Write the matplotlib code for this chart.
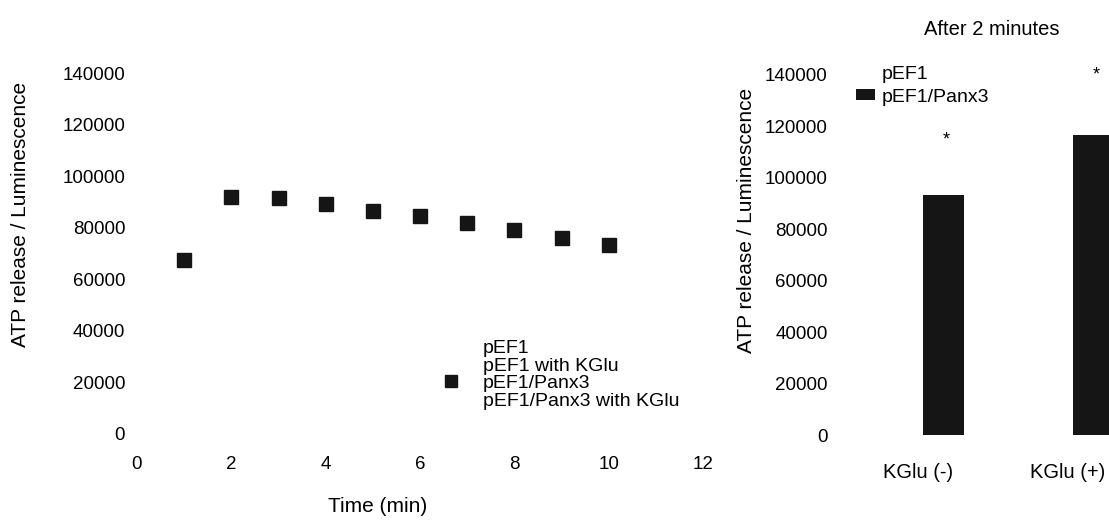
import os
os.environ.setdefault("MPLBACKEND", "Agg")

import matplotlib.pyplot as plt
from matplotlib.lines import Line2D
from matplotlib.patches import Patch

plt.rcParams['font.family'] = ['Liberation Sans', 'DejaVu Sans']

# time course, pEF1/Panx3 (the only visible series)
time_min = [1, 2, 3, 4, 5, 6, 7, 8, 9, 10]
panx3_lum = [67500, 92000, 91400, 89200, 86600, 84500, 81800, 79100, 76000, 73300]
series_names = ["pEF1", "pEF1 with KGlu", "pEF1/Panx3", "pEF1/Panx3 with KGlu"]
x_ticks = [0, 2, 4, 6, 8, 10, 12]
y_ticks = [0, 20000, 40000, 60000, 80000, 100000, 120000, 140000]

# bar panel, after 2 minutes
bar_groups = ["KGlu (-)", "KGlu (+)"]
bar_panx3 = [93300, 116700]
star_y = [114700, 140000]
bar_legend = ["pEF1", "pEF1/Panx3"]

DARK = "#151515"

fig = plt.figure(figsize=(11.09, 5.24), dpi=100)

# ---- left: time course ----
ax = fig.add_axes([137 / 1109, 90 / 524, 566 / 1109, 361 / 524])
ax.plot(time_min, panx3_lum, linestyle="none", marker="s", markersize=9.5,
        color=DARK, label=series_names[2])
ax.set_xlim(0, 12)
ax.set_ylim(0, 140000)
ax.set_xticks(x_ticks)
ax.set_yticks(y_ticks)
ax.tick_params(axis="y", length=0, pad=8.5, labelsize=13.5)
ax.tick_params(axis="x", length=0, pad=16, labelsize=13.5)
for s in ax.spines.values():
    s.set_visible(False)
ax.set_ylabel("ATP release / Luminescence", fontsize=15, va="center", ha="center")
ax.yaxis.set_label_coords(-0.205, 0.609)
ax.set_xlabel("Time (min)", fontsize=15, va="center", ha="center")
ax.xaxis.set_label_coords(0.426, -0.202)

handles = [
    Line2D([], [], linestyle="none", marker="s", color="white", markersize=8.5),
    Line2D([], [], linestyle="none", marker="s", color="white", markersize=8.5),
    Line2D([], [], linestyle="none", marker="s", color=DARK, markersize=8.5),
    Line2D([], [], linestyle="none", marker="s", color="white", markersize=8.5),
]
ax.legend(handles, series_names, loc="upper left", bbox_to_anchor=(0.5376, 0.262),
          frameon=False, fontsize=14, borderpad=0, borderaxespad=0,
          handlelength=1.0, handletextpad=1.15, labelspacing=0.0)

# ---- right: bars ----
ax2 = fig.add_axes([843 / 1109, 89 / 524, 300 / 1109, 360 / 524])
pos = [i + 0.167 for i in range(len(bar_groups))]
ax2.bar(pos, bar_panx3, width=0.273, color=DARK, label=bar_legend[1])
for xp, sy in zip(pos, star_y):
    ax2.text(xp + 0.02, sy, "*", ha="center", va="center", fontsize=13)
ax2.set_xlim(-0.5, 1.5)
ax2.set_ylim(0, 140000)
ax2.set_yticks(y_ticks)
ax2.set_xticks(range(len(bar_groups)))
ax2.set_xticklabels(bar_groups)
ax2.tick_params(axis="y", length=0, pad=11, labelsize=13.5)
ax2.tick_params(axis="x", length=0, pad=20, labelsize=14.5)
for s in ax2.spines.values():
    s.set_visible(False)
ax2.set_ylabel("ATP release / Luminescence", fontsize=15, va="center", ha="center")
ax2.yaxis.set_label_coords(-0.323, 0.597)
ax2.set_title("After 2 minutes", fontsize=14.5, x=0.497, y=1.125, va="center", pad=0)

bh = [Patch(facecolor="white", edgecolor="none"), Patch(facecolor=DARK, edgecolor="none")]
ax2.legend(bh, bar_legend, loc="upper left", bbox_to_anchor=(0.043, 1.025),
           frameon=False, fontsize=14, borderpad=0, borderaxespad=0,
           handlelength=1.0, handleheight=0.5, handletextpad=0.35, labelspacing=0.3)

fig.savefig("out.png", dpi=100)
plt.close(fig)
